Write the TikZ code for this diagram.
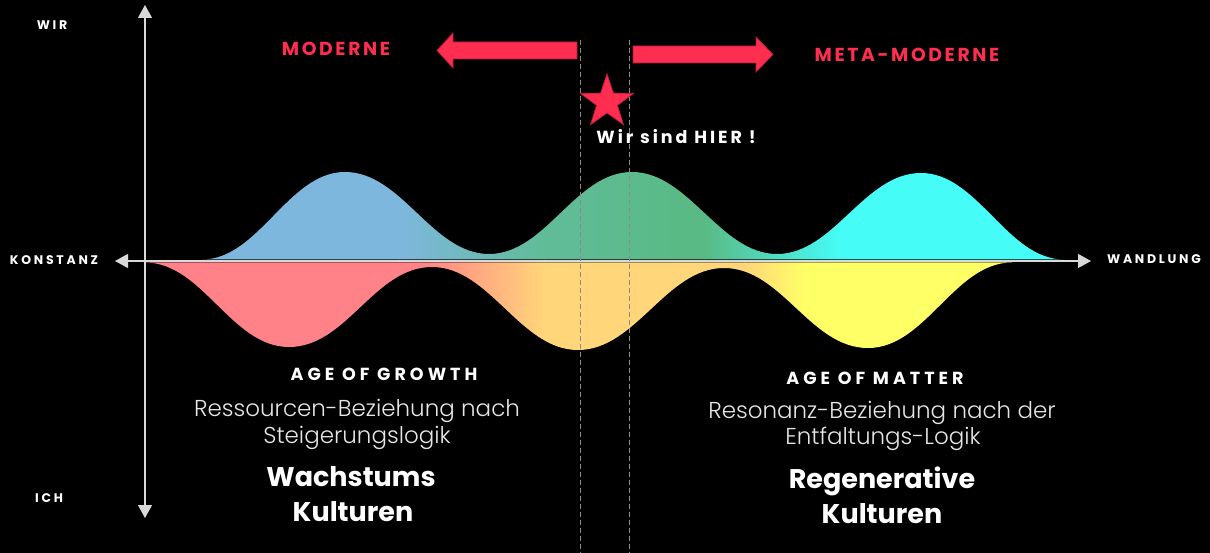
\documentclass[tikz,border=0pt]{standalone}
\usepackage{fontspec}
\setmainfont{Poppins}
\newfontfamily\trackfont{Poppins}[LetterSpace=22]
\newfontfamily\eraFont{Poppins}[LetterSpace=14]
\newfontfamily\ageFont{Poppins}[LetterSpace=23]
\newfontfamily\hereFont{Poppins}[LetterSpace=17]
\newfontfamily\lightfont{Poppins Light}
\usetikzlibrary{arrows.meta,shapes.geometric}

\definecolor{hot}{HTML}{FF2D50}
\definecolor{hotedge}{HTML}{B51E38}
\definecolor{axisgray}{HTML}{D9D9D9}
\definecolor{dashgray}{HTML}{8A8A8A}
\definecolor{wblue}{HTML}{7EB7DD}
\definecolor{wteal}{HTML}{60BC98}
\definecolor{wgreen}{HTML}{5ABA86}
\definecolor{wcyan}{HTML}{45FCF7}
\definecolor{wpink}{HTML}{FF8288}
\definecolor{worange}{HTML}{FFD67A}
\definecolor{wyellow}{HTML}{FFFF66}
\definecolor{softwhite}{HTML}{E6E6E6}

\tikzset{
  axisline/.style={draw=axisgray, line width=1.2pt,
    {Triangle[width=14pt,length=13pt]}-{Triangle[width=14pt,length=13pt]}},
  marker/.style={draw=dashgray, line width=0.8pt, dash pattern=on 5pt off 3pt},
  blockarrow/.style={fill=hot, draw=hotedge, line width=0.8pt},
  lab/.style={text=white, font=\trackfont\bfseries\fontsize{12.5}{15}\selectfont, anchor=base, inner sep=0pt},
  era/.style={text=hot, font=\eraFont\bfseries\fontsize{18.8}{22}\selectfont, anchor=base, inner sep=0pt},
  age/.style={text=white, font=\ageFont\bfseries\fontsize{17.5}{21}\selectfont, anchor=base, inner sep=0pt},
  here/.style={text=white, font=\hereFont\bfseries\fontsize{17.5}{21}\selectfont, anchor=base, inner sep=0pt},
  thin/.style={text=softwhite, font=\lightfont\fontsize{23}{27}\selectfont, anchor=base, inner sep=0pt},
  big/.style={text=white, font=\bfseries\fontsize{27}{32}\selectfont, anchor=base, inner sep=0pt},
}

\begin{document}
\begin{tikzpicture}[x=1pt,y=-1pt]
  % canvas
  \fill[black] (0,0) rectangle (1210,553);
  \useasboundingbox (0,0) rectangle (1210,553);

  % upper wave: blue -> green -> cyan
  \begin{scope}
    \clip (202,259.5) .. controls (259,259.5) and (288,172) .. (345,172)
      .. controls (402,172) and (432,254) .. (489,254)
      .. controls (546,254) and (575,172) .. (632,172)
      .. controls (689,172) and (720,254) .. (777,254)
      .. controls (834,254) and (864,173) .. (921,173)
      .. controls (978,173) and (1007,259.5) .. (1064,259.5) -- cycle;
    \fill[wblue] (195,165) rectangle (400,262);
    \shade[left color=wblue, right color=wteal] (399.5,165) rectangle (545,262);
    \shade[left color=wteal, right color=wgreen] (544.5,165) rectangle (680,262);
    \fill[wgreen] (679.5,165) rectangle (705,262);
    \shade[left color=wgreen, right color=wcyan] (704.5,165) rectangle (840,262);
    \fill[wcyan] (839.5,165) rectangle (1070,262);
  \end{scope}

  % lower wave: pink -> orange -> yellow
  \begin{scope}
    \clip (145,262.5) .. controls (203,262.5) and (231,347) .. (289,347)
      .. controls (347,347) and (374,267) .. (432,267)
      .. controls (490,267) and (520,350) .. (578,350)
      .. controls (636,350) and (666,268) .. (724,268)
      .. controls (782,268) and (810,348) .. (868,348)
      .. controls (926,348) and (954,262.5) .. (1012,262.5) -- cycle;
    \fill[wpink] (140,260) rectangle (420,355);
    \shade[left color=wpink, right color=worange] (419.5,260) rectangle (545,355);
    \fill[worange] (544.5,260) rectangle (745,355);
    \shade[left color=worange, right color=wyellow] (744.5,260) rectangle (805,355);
    \fill[wyellow] (804.5,260) rectangle (1020,355);
  \end{scope}

  % axes
  \coordinate (ytop) at (145,5);
  \coordinate (ybot) at (145,518);
  \coordinate (xleft) at (115,261);
  \coordinate (xright) at (1091,261);
  \draw[axisline] (ybot) -- (ytop);
  \draw[axisline] (xleft) -- (xright);

  % present-day markers
  \coordinate (m1top) at (580,40);
  \coordinate (m1bot) at (580,553);
  \coordinate (m2top) at (629,40);
  \coordinate (m2bot) at (629,553);
  \draw[marker] (m1top) -- (m1bot);
  \draw[marker] (m2top) -- (m2bot);

  % block arrows
  \filldraw[blockarrow] (577,42) -- (453,42) -- (453,33) -- (437,50.5)
    -- (453,68) -- (453,59) -- (577,59) -- cycle;
  \filldraw[blockarrow] (633,46) -- (756,46) -- (756,37) -- (773,54.5)
    -- (756,72) -- (756,63) -- (633,63) -- cycle;

  % star
  \node[star, star points=5, star point ratio=2.55, minimum size=56pt,
        inner sep=0pt, fill=hot, draw=hotedge, line width=0.8pt] (star) at (607,102) {};

  % axis labels
  \node[lab] (wir) at (52,30) {WIR};
  \node[lab] (konstanz) at (54,265) {KONSTANZ};
  \node[lab] (wandlung) at (1154,264) {WANDLUNG};
  \node[lab] (ich) at (49,502) {ICH};

  % era labels
  \node[era] (moderne) at (336,56) {MODERNE};
  \node[era] (metamoderne) at (907,62) {META-MODERNE};
  \node[here] (hier) at (676,144) {Wir sind HIER !};

  % left block
  \node[age] (growth) at (384,380) {AGE OF GROWTH};
  \node[thin] (ress) at (357,416) {Ressourcen-Beziehung nach};
  \node[thin] (steig) at (357,443) {Steigerungslogik};
  \node[big] (wachs) at (351,486) {Wachstums};
  \node[big] (kult1) at (353,521) {Kulturen};

  % right block
  \node[age] (matter) at (875,384) {AGE OF MATTER};
  \node[thin] (reso) at (882,418) {Resonanz-Beziehung nach der};
  \node[thin] (entf) at (883,444) {Entfaltungs-Logik};
  \node[big] (regen) at (882,488) {Regenerative};
  \node[big] (kult2) at (882,523) {Kulturen};
\end{tikzpicture}
\end{document}
